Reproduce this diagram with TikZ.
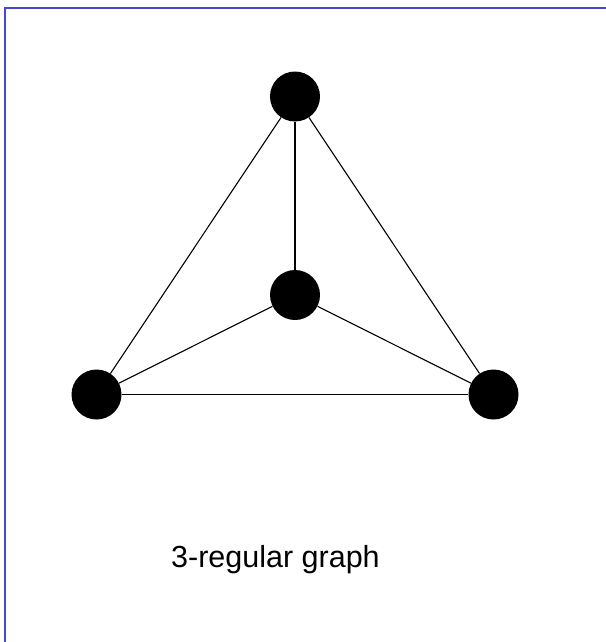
\documentclass[tikz,border=0pt]{standalone}
\usepackage{fontspec}
\setmainfont{Liberation Sans}
\begin{document}
\begin{tikzpicture}[x=1pt,y=-1pt,
  vert/.style={circle,fill=black,minimum size=50pt,inner sep=0pt},
  edge/.style={line width=1.1pt,black}]
\useasboundingbox (0,0) rectangle (605,642);
\fill[white] (0,0) rectangle (605,642);
\draw[line width=1.6pt,color={rgb,255:red,70;green,70;blue,215}] (5,660) -- (5,8) -- (620,8);
\node[vert] (t) at (295,96.5) {};
\node[vert] (c) at (295,295) {};
\node[vert] (l) at (96.5,394.5) {};
\node[vert] (r) at (493.5,394.5) {};
\draw[edge] (t) -- (c);
\draw[edge] (t) -- (l);
\draw[edge] (t) -- (r);
\draw[edge] (c) -- (l);
\draw[edge] (c) -- (r);
\draw[edge] (l) -- (r);
\node[font=\fontsize{30.5}{36}\selectfont,inner sep=0pt,anchor=base west] (lab) at (171,567) {3-regular graph};
\end{tikzpicture}
\end{document}
